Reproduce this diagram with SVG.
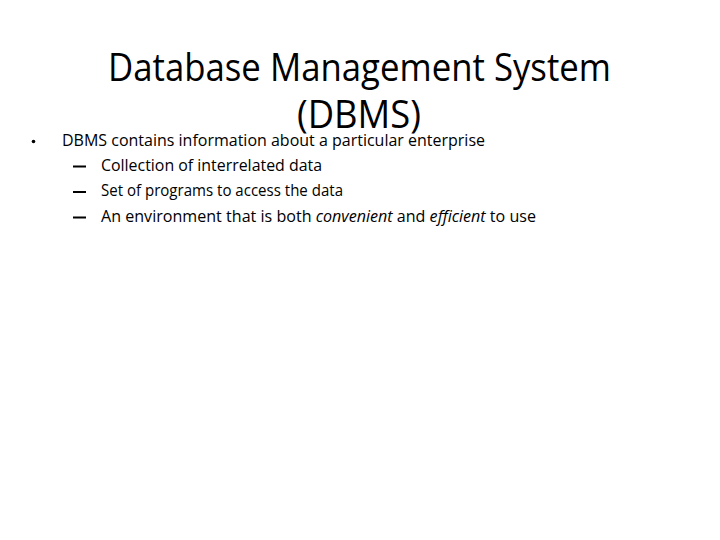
<svg xmlns="http://www.w3.org/2000/svg" width="720" height="540" viewBox="0 0 720 540">
<style>
.t{font-family:"Open Sans","Noto Sans","Liberation Sans",sans-serif;fill:#000}
.title{font-size:38px}
.b{font-size:15.5px}
</style>
<rect width="720" height="540" fill="#fff"/>
<g id="title">
<text class="t title" x="108" y="81" textLength="503" lengthAdjust="spacingAndGlyphs">Database Management System</text>
<text class="t title" x="297" y="128" textLength="124" lengthAdjust="spacingAndGlyphs">(DBMS)</text>
</g>
<g id="bullets">
<circle cx="33.5" cy="141.5" r="1.8" fill="#000"/>
<text class="t b" x="62" y="146" textLength="423" lengthAdjust="spacingAndGlyphs">DBMS contains information about a particular enterprise</text>
<rect x="73" y="165.5" width="13" height="2" fill="#000"/>
<text class="t b" x="101" y="171" textLength="221" lengthAdjust="spacingAndGlyphs">Collection of interrelated data</text>
<rect x="73" y="191" width="13" height="2" fill="#000"/>
<text class="t b" x="101" y="196" textLength="242" lengthAdjust="spacingAndGlyphs">Set of programs to access the data</text>
<rect x="73" y="216.5" width="13" height="2" fill="#000"/>
<text class="t b" x="101" y="222" textLength="435" lengthAdjust="spacingAndGlyphs">An environment that is both <tspan font-style="italic">convenient</tspan> and <tspan font-style="italic">efficient</tspan> to use</text>
</g>
</svg>
